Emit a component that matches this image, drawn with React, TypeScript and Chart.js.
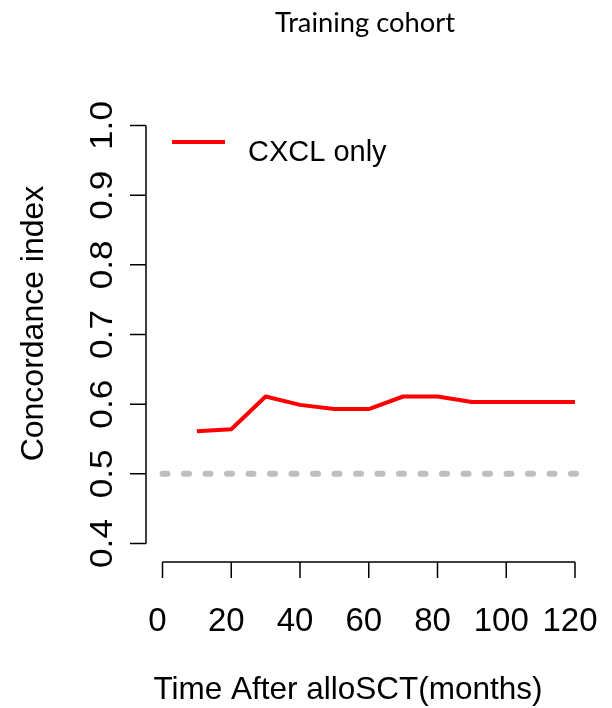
import React, { useEffect, useRef } from "react";
import { Chart, registerables } from "chart.js";

Chart.register(...registerables);

// ---- data ----
const months = [10, 20, 30, 40, 50, 60, 70, 80, 90, 100, 110, 120];
const cIndex = [0.561, 0.564, 0.611, 0.599, 0.593, 0.593, 0.611, 0.611, 0.603, 0.603, 0.603, 0.603];
const refMonths = [0, 122];
const refValues = [0.5, 0.5];
const xTicks = [0, 20, 40, 60, 80, 100, 120];
const yTicks = [0.4, 0.5, 0.6, 0.7, 0.8, 0.9, 1.0];
const yTickLabels = ["0.4", "0.5", "0.6", "0.7", "0.8", "0.9", "1.0"];
const chartTitle = "Training cohort";
const seriesName = "CXCL only";
const xTitle = "Time After alloSCT(months)";
const yTitle = "Concordance index";

const RFONT = "'Liberation Sans', Arial, Helvetica, sans-serif";

function drawText(
  ctx: CanvasRenderingContext2D,
  text: string,
  x: number,
  y: number,
  rotate: boolean,
  stretch = 1
) {
  ctx.save();
  ctx.translate(x, y);
  if (rotate) ctx.rotate(-Math.PI / 2);
  ctx.scale(stretch, 1);
  ctx.fillText(text, 0, 0);
  ctx.restore();
}

const rAxesPlugin = {
  id: "rAxes",
  afterDraw(chart: any) {
    const ctx: CanvasRenderingContext2D = chart.ctx;
    const xs = chart.scales.x;
    const ys = chart.scales.y;
    ctx.save();
    ctx.strokeStyle = "#000";
    ctx.fillStyle = "#000";
    ctx.lineWidth = 1.5;

    // y axis (detached)
    const yAxisX = 146;
    const tickLen = 16;
    ctx.beginPath();
    ctx.moveTo(yAxisX, ys.getPixelForValue(yTicks[0]));
    ctx.lineTo(yAxisX, ys.getPixelForValue(yTicks[yTicks.length - 1]));
    yTicks.forEach((v) => {
      const p = ys.getPixelForValue(v);
      ctx.moveTo(yAxisX, p);
      ctx.lineTo(yAxisX - tickLen, p);
    });
    ctx.stroke();

    ctx.font = `32px ${RFONT}`;
    ctx.textAlign = "center";
    ctx.textBaseline = "alphabetic";
    yTicks.forEach((v, i) => {
      drawText(ctx, yTickLabels[i], 112, ys.getPixelForValue(v), true, 1.1);
    });

    // x axis (detached)
    const xAxisY = 562;
    ctx.beginPath();
    ctx.moveTo(xs.getPixelForValue(xTicks[0]), xAxisY);
    ctx.lineTo(xs.getPixelForValue(xTicks[xTicks.length - 1]), xAxisY);
    xTicks.forEach((v) => {
      const p = xs.getPixelForValue(v);
      ctx.moveTo(p, xAxisY);
      ctx.lineTo(p, xAxisY + tickLen);
    });
    ctx.stroke();
    ctx.font = `33px ${RFONT}`;
    xTicks.forEach((v) => {
      drawText(ctx, String(v), xs.getPixelForValue(v) - 5, 631, false);
    });

    // axis titles
    ctx.font = `31.5px ${RFONT}`;
    drawText(ctx, xTitle, 348, 699, false);
    ctx.font = `32px ${RFONT}`;
    drawText(ctx, yTitle, 43, 323.5, true);

    // legend
    ctx.strokeStyle = "#ff0000";
    ctx.lineWidth = 4;
    ctx.beginPath();
    ctx.moveTo(172, 142);
    ctx.lineTo(225, 142);
    ctx.stroke();
    ctx.font = `29px ${RFONT}`;
    ctx.textAlign = "left";
    drawText(ctx, seriesName, 248, 161, false);

    // title
    ctx.textAlign = "center";
    ctx.font = `26px Lato, 'Noto Sans', sans-serif`;
    const w = ctx.measureText(chartTitle).width;
    const size = (26 * 180) / w;
    ctx.font = `${size.toFixed(2)}px Lato, 'Noto Sans', sans-serif`;
    ctx.fillText(chartTitle, 365, 32);

    ctx.restore();
  },
};

export default function App() {
  const ref = useRef<HTMLCanvasElement | null>(null);
  useEffect(() => {
    if (!ref.current) return;
    const chart = new Chart(ref.current, {
      type: "line",
      data: {
        datasets: [
          {
            label: "reference",
            data: refMonths.map((m, i) => ({ x: m, y: refValues[i] })),
            borderColor: "#bebebe",
            borderWidth: 6,
            borderDash: [5, 16.5],
            borderCapStyle: "round",
            pointRadius: 0,
            clip: false as any,
          },
          {
            label: seriesName,
            data: months.map((m, i) => ({ x: m, y: cIndex[i] })),
            borderColor: "#ff0000",
            borderWidth: 4,
            pointRadius: 0,
            tension: 0,
            borderJoinStyle: "round",
            borderCapStyle: "butt",
          },
        ],
      },
      options: {
        responsive: false,
        animation: false,
        layout: { padding: { left: 162.5, right: 37, top: 125.5, bottom: 164.5 } },
        plugins: { legend: { display: false }, title: { display: false }, tooltip: { enabled: false } },
        scales: {
          x: { type: "linear", min: 0, max: 120, display: false },
          y: { type: "linear", min: 0.4, max: 1.0, display: false },
        },
      },
      plugins: [rAxesPlugin],
    });
    return () => chart.destroy();
  }, []);
  return (
    <div style={{ position: "absolute", left: 0, top: 0, width: 612, height: 708, background: "#fff" }}>
      <canvas ref={ref} width={612} height={708} style={{ display: "block" }} />
    </div>
  );
}
